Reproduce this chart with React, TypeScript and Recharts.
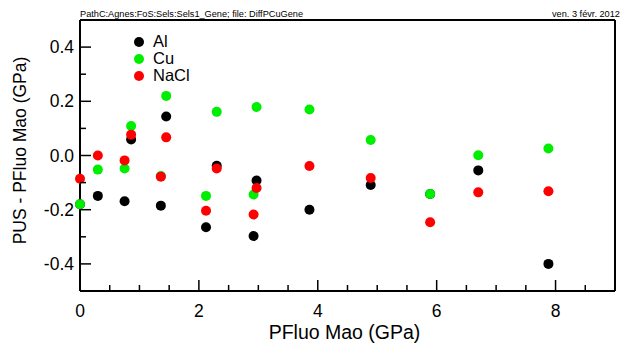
import { ScatterChart, Scatter, XAxis, YAxis, Legend } from "recharts";

// pressure points (GPa), shared by the three samples
const pFluo = [0, 0.3, 0.75, 0.86, 1.36, 1.45, 2.12, 2.3, 2.92, 2.97, 3.86, 4.89, 5.89, 6.7, 7.88];
const alDiff = [-0.18, -0.149, -0.169, 0.059, -0.185, 0.144, -0.265, -0.038, -0.297, -0.092, -0.2, -0.109, -0.142, -0.055, -0.4];
const cuDiff = [-0.18, -0.052, -0.048, 0.109, -0.076, 0.22, -0.149, 0.161, -0.144, 0.179, 0.17, 0.057, -0.142, 0.001, 0.026];
const naclDiff = [-0.086, 0.0, -0.018, 0.077, -0.078, 0.067, -0.204, -0.048, -0.218, -0.12, -0.039, -0.083, -0.246, -0.136, -0.132];

const seriesNames = ["Al", "Cu", "NaCl"];
const seriesColors = ["#000000", "#00ee00", "#ff0000"];

const xTicks = [0, 0.5, 1, 1.5, 2, 2.5, 3, 3.5, 4, 4.5, 5, 5.5, 6, 6.5, 7, 7.5, 8, 8.5];
const xLabels = [0, 2, 4, 6, 8];
const yTicks = [-0.4, -0.3, -0.2, -0.1, 0, 0.1, 0.2, 0.3, 0.4];
const yLabels = [-0.4, -0.2, 0, 0.2, 0.4];

const headerPath = "PathC:Agnes:FoS:Sels:Sels1_Gene; file: DiffPCuGene";
const headerDate = "ven. 3 févr. 2012";
const xTitle = "PFluo Mao (GPa)";
const yTitle = "PUS - PFluo Mao (GPa)";

const FONT = "'Liberation Sans', Arial, sans-serif";

const toPoints = (ys: number[]) => pFluo.map((x, i) => ({ x, y: ys[i] }));
const series = [alDiff, cuDiff, naclDiff].map(toPoints);

const isMajorX = (v: number) => xLabels.some((l) => Math.abs(l - v) < 1e-9);
const isMajorY = (v: number) => yLabels.some((l) => Math.abs(l - v) < 1e-9);

function BottomTick(props: any) {
  const { x, y, payload } = props;
  const major = isMajorX(payload.value);
  return (
    <g>
      <line x1={x} x2={x} y1={y} y2={y - (major ? 11 : 6)} stroke="#000" strokeWidth={1.5} />
      {major && (
        <text x={x} y={y + 26} textAnchor="middle" fontSize={17.5} fontFamily={FONT} fill="#000">
          {payload.value}
        </text>
      )}
    </g>
  );
}

function TopTick(props: any) {
  const { x, y, payload } = props;
  const major = isMajorX(payload.value);
  return <line x1={x} x2={x} y1={y} y2={y + (major ? 11 : 6)} stroke="#000" strokeWidth={1.5} />;
}

function LeftTick(props: any) {
  const { x, y, payload } = props;
  const major = isMajorY(payload.value);
  return (
    <g>
      <line x1={x} x2={x + (major ? 11 : 6)} y1={y} y2={y} stroke="#000" strokeWidth={1.5} />
      {major && (
        <text x={x - 6} y={y + 6} textAnchor="end" fontSize={17.5} fontFamily={FONT} fill="#000">
          {payload.value.toFixed(1)}
        </text>
      )}
    </g>
  );
}

function RightTick(props: any) {
  const { x, y, payload } = props;
  const major = isMajorY(payload.value);
  return <line x1={x} x2={x - (major ? 11 : 6)} y1={y} y2={y} stroke="#000" strokeWidth={1.5} />;
}

function LegendBox() {
  return (
    <div style={{ fontFamily: FONT, fontSize: 16.5, lineHeight: "17px" }}>
      {seriesNames.map((name, i) => (
        <div key={name} style={{ display: "flex", alignItems: "center", height: 17 }}>
          <svg width={10} height={10} style={{ marginRight: 9 }}>
            <circle cx={5} cy={5} r={5} fill={seriesColors[i]} />
          </svg>
          <span>{name}</span>
        </div>
      ))}
    </div>
  );
}

const axisLine = { stroke: "#000", strokeWidth: 2 };

export default function App() {
  return (
    <div style={{ position: "absolute", left: 0, top: 0, width: 625, height: 344, background: "#fff" }}>
      <ScatterChart width={625} height={344} margin={{ top: 19, right: 9, bottom: 0, left: 0 }}>
        <XAxis
          xAxisId="bottom"
          type="number"
          dataKey="x"
          domain={[0, 9]}
          ticks={xTicks}
          interval={0}
          height={53}
          tickSize={0}
          tickMargin={0}
          tickLine={false}
          axisLine={axisLine}
          tick={<BottomTick />}
          label={{
            content: ({ viewBox }: any) => (
              <text
                x={viewBox.x + viewBox.width / 2 - 3}
                y={viewBox.y + 48}
                textAnchor="middle"
                fontSize={19.5}
                fontFamily={FONT}
                fill="#000"
              >
                {xTitle}
              </text>
            ),
          }}
        />
        {/* frame: top axis, ticks only */}
        <XAxis
          xAxisId="top"
          orientation="top"
          type="number"
          dataKey="x"
          domain={[0, 9]}
          ticks={xTicks}
          interval={0}
          height={1}
          tickSize={0}
          tickMargin={0}
          tickLine={false}
          axisLine={axisLine}
          tick={<TopTick />}
          label={{
            content: ({ viewBox }: any) => (
              <g fontSize={9.2} fontFamily={FONT} fill="#000">
                <text x={viewBox.x} y={17}>{headerPath}</text>
                <text x={552} y={17}>{headerDate}</text>
              </g>
            ),
          }}
        />
        <YAxis
          yAxisId="left"
          type="number"
          dataKey="y"
          domain={[-0.5, 0.5]}
          ticks={yTicks}
          interval={0}
          width={80}
          tickSize={0}
          tickMargin={0}
          tickLine={false}
          axisLine={axisLine}
          tick={<LeftTick />}
          label={{
            content: ({ viewBox }: any) => {
              const cy = viewBox.y + viewBox.height / 2 - 5;
              return (
                <text
                  x={26}
                  y={cy}
                  transform={`rotate(-90, 26, ${cy})`}
                  textAnchor="middle"
                  fontSize={17.5}
                  fontFamily={FONT}
                  fill="#000"
                >
                  {yTitle}
                </text>
              );
            },
          }}
        />
        {/* frame: right axis, ticks only */}
        <YAxis
          yAxisId="right"
          orientation="right"
          type="number"
          dataKey="y"
          domain={[-0.5, 0.5]}
          ticks={yTicks}
          interval={0}
          width={1}
          tickSize={0}
          tickMargin={0}
          tickLine={false}
          axisLine={axisLine}
          tick={<RightTick />}
        />
        <Legend
          layout="vertical"
          align="center"
          verticalAlign="middle"
          content={() => <LegendBox />}
          wrapperStyle={{ left: 134, top: 33, width: 80 }}
        />
        <Scatter
          data={[]}
          xAxisId="top"
          yAxisId="right"
          legendType="none"
          isAnimationActive={false}
        />
        {series.map((pts, i) => (
          <Scatter
            key={seriesNames[i]}
            name={seriesNames[i]}
            data={pts}
            xAxisId="bottom"
            yAxisId="left"
            fill={seriesColors[i]}
            isAnimationActive={false}
            shape={(p: any) => <circle cx={p.cx} cy={p.cy} r={5} fill={seriesColors[i]} />}
          />
        ))}
      </ScatterChart>
    </div>
  );
}
